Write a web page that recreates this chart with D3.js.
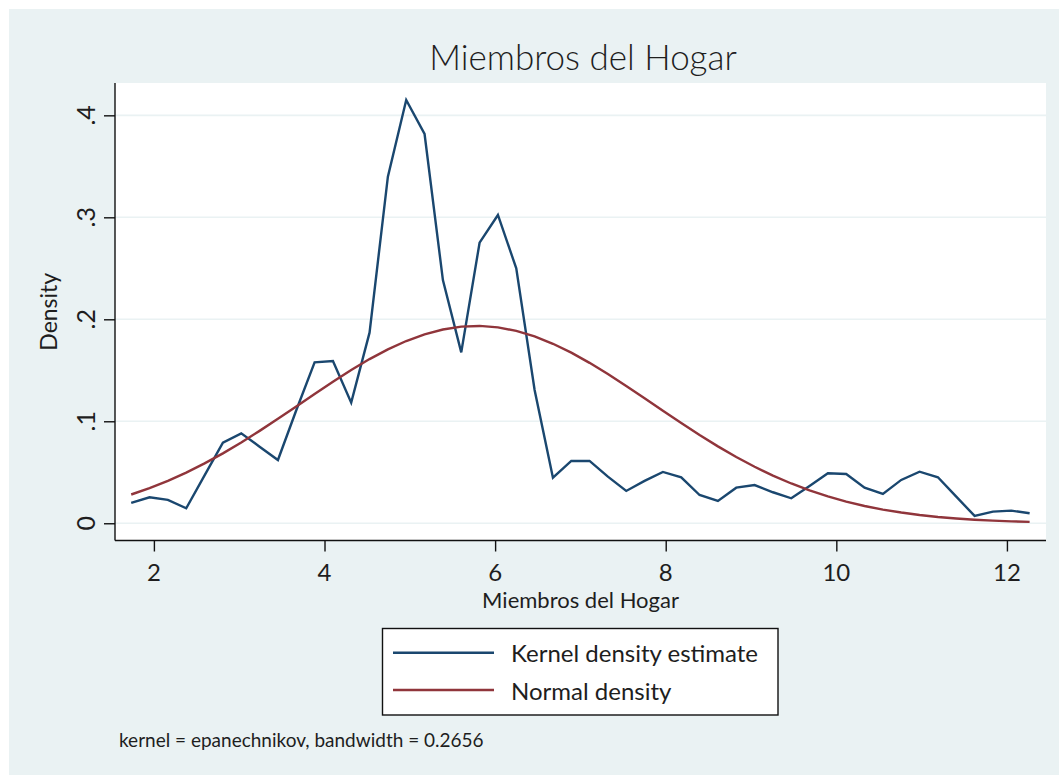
<!DOCTYPE html>
<html>
<head>
<meta charset="utf-8">
<script src="https://cdn.jsdelivr.net/npm/d3@7"></script>
<style>
  body { margin: 0; background: #ffffff; }
  text { font-family: Lato, "Open Sans", sans-serif; fill: #1e1e1e; }
</style>
</head>
<body>
<div id="vis-container"></div>
<script>
const width = 1059;
const height = 775;

// plot region (white area) inside the grey graph region
const plot = { left: 115, right: 1046, top: 83, bottom: 540.5 };

// evaluation points of the density estimate
const xPoints = [1.734, 1.949, 2.164, 2.379, 2.594, 2.809, 3.024, 3.239, 3.454, 3.669,
                 3.884, 4.099, 4.313, 4.528, 4.743, 4.958, 5.173, 5.388, 5.603, 5.818,
                 6.033, 6.248, 6.463, 6.678, 6.893, 7.107, 7.322, 7.537, 7.752, 7.967,
                 8.182, 8.397, 8.612, 8.827, 9.042, 9.257, 9.472, 9.686, 9.901, 10.116,
                 10.331, 10.546, 10.761, 10.976, 11.191, 11.406, 11.621, 11.836, 12.051, 12.266];

// kernel density estimate
const kdeValues = [0.0200, 0.0255, 0.0230, 0.0147, 0.0470, 0.0790, 0.0882, 0.0751, 0.0620, 0.1108,
                   0.1578, 0.1591, 0.1183, 0.1869, 0.3398, 0.4150, 0.3817, 0.2385, 0.1676, 0.2751,
                   0.3023, 0.2500, 0.1307, 0.0447, 0.0611, 0.0611, 0.0457, 0.0317, 0.0415, 0.0503,
                   0.0451, 0.0277, 0.0219, 0.0349, 0.0375, 0.0304, 0.0245, 0.0366, 0.0490, 0.0483,
                   0.0349, 0.0287, 0.0425, 0.0506, 0.0451, 0.0261, 0.0072, 0.0114, 0.0124, 0.0098];

// normal density
const normValues = [0.0282, 0.0345, 0.0416, 0.0497, 0.0587, 0.0685, 0.0792, 0.0906, 0.1024, 0.1146,
                    0.1268, 0.1388, 0.1503, 0.1610, 0.1705, 0.1787, 0.1853, 0.1900, 0.1928, 0.1935,
                    0.1921, 0.1886, 0.1832, 0.1760, 0.1673, 0.1573, 0.1463, 0.1346, 0.1225, 0.1103,
                    0.0982, 0.0865, 0.0754, 0.0650, 0.0554, 0.0467, 0.0390, 0.0322, 0.0263, 0.0212,
                    0.0169, 0.0134, 0.0105, 0.0081, 0.0062, 0.0047, 0.0035, 0.0026, 0.0019, 0.0014];

const xTicks = [2, 4, 6, 8, 10, 12];
const yTicks = [0, 0.1, 0.2, 0.3, 0.4];
const yTickLabels = ["0", ".1", ".2", ".3", ".4"];

const seriesNames = ["Kernel density estimate", "Normal density"];
const seriesColors = ["#1a476f", "#90353b"];

const svg = d3.select("#vis-container")
              .append("svg")
              .attr("width", width)
              .attr("height", height);

// graph region background
svg.append("rect")
   .attr("x", 9).attr("y", 9)
   .attr("width", width - 9).attr("height", height - 9)
   .attr("fill", "#eaf2f3");

svg.append("rect")
   .attr("x", plot.left).attr("y", plot.top)
   .attr("width", plot.right - plot.left).attr("height", plot.bottom - plot.top)
   .attr("fill", "#ffffff");

const x = d3.scaleLinear()
            .domain([1.544, 12.458])
            .range([plot.left, plot.right]);

const y = d3.scaleLinear()
            .domain([-0.0169, 0.4317])
            .range([plot.bottom, plot.top]);

// gridlines
svg.append("g")
   .selectAll("line")
   .data(yTicks)
   .enter()
   .append("line")
     .attr("x1", plot.left)
     .attr("x2", plot.right)
     .attr("y1", (d) => y(d))
     .attr("y2", (d) => y(d))
     .attr("stroke", "#eaf2f3")
     .attr("stroke-width", 1.6);

// density lines
const line = d3.line()
               .x((d) => x(d[0]))
               .y((d) => y(d[1]));

[kdeValues, normValues].forEach((vals, i) => {
  svg.append("path")
     .datum(xPoints.map((xv, j) => [xv, vals[j]]))
     .attr("d", line)
     .attr("fill", "none")
     .attr("stroke", seriesColors[i])
     .attr("stroke-width", 2.4)
     .attr("stroke-linejoin", "miter");
});

// y axis
svg.append("g")
   .attr("transform", `translate(${plot.left},0)`)
   .call(d3.axisLeft(y).tickValues(yTicks).tickSize(11).tickFormat(""))
   .call((g) => g.select(".domain").attr("d", `M0,${plot.top}V${plot.bottom}`))
   .call((g) => g.selectAll("line, path").attr("stroke", "#111").attr("stroke-width", 1.4));

svg.append("g")
   .selectAll("text")
   .data(yTicks)
   .enter()
   .append("text")
     .attr("transform", (d) => `translate(95,${y(d)}) rotate(-90)`)
     .attr("text-anchor", "middle")
     .attr("font-size", "25px")
     .text((d, i) => yTickLabels[i]);

svg.append("text")
   .attr("transform", `translate(57,${(plot.top + plot.bottom) / 2}) rotate(-90)`)
   .attr("text-anchor", "middle")
   .attr("font-size", "23px")
   .text("Density");

// x axis
svg.append("g")
   .attr("transform", `translate(0,${plot.bottom})`)
   .call(d3.axisBottom(x).tickValues(xTicks).tickSize(11).tickFormat(""))
   .call((g) => g.select(".domain").attr("d", `M${plot.left},0H${plot.right}`))
   .call((g) => g.selectAll("line, path").attr("stroke", "#111").attr("stroke-width", 1.4));

svg.append("g")
   .selectAll("text")
   .data(xTicks)
   .enter()
   .append("text")
     .attr("x", (d) => x(d))
     .attr("y", 580.5)
     .attr("text-anchor", "middle")
     .attr("font-size", "24px")
     .text((d) => d);

svg.append("text")
   .attr("x", (plot.left + plot.right) / 2)
   .attr("y", 607.5)
   .attr("text-anchor", "middle")
   .attr("font-size", "22px")
   .text("Miembros del Hogar");

// title
svg.append("text")
   .attr("x", 583)
   .attr("y", 70)
   .attr("text-anchor", "middle")
   .attr("font-size", "35px")
   .attr("font-weight", 300)
   .text("Miembros del Hogar");

// legend
const legend = svg.append("g");

legend.append("rect")
      .attr("x", 382.5).attr("y", 628.5)
      .attr("width", 395.5).attr("height", 86.5)
      .attr("fill", "#ffffff")
      .attr("stroke", "#111")
      .attr("stroke-width", 1.4);

seriesNames.forEach((name, i) => {
  const ly = 652.7 + i * 37.3;
  legend.append("line")
        .attr("x1", 393).attr("x2", 494)
        .attr("y1", ly).attr("y2", ly)
        .attr("stroke", seriesColors[i])
        .attr("stroke-width", 2.4);
  legend.append("text")
        .attr("x", 511)
        .attr("y", ly + 9.5)
        .attr("font-size", "24px")
        .text(name);
});

// note
svg.append("text")
   .attr("x", 119)
   .attr("y", 747)
   .attr("font-size", "19px")
   .text("kernel = epanechnikov, bandwidth = 0.2656");
</script>
</body>
</html>
